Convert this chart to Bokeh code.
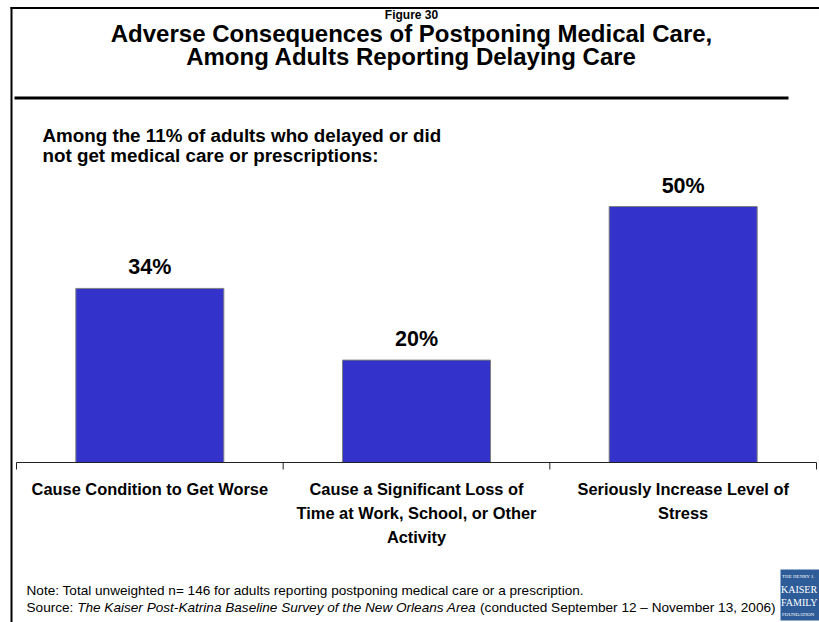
from bokeh.plotting import figure
from bokeh.models import Range1d, ColumnDataSource, Label, BoxAnnotation
from bokeh.core.properties import value
from bokeh.embed import file_html
from bokeh.resources import INLINE

# ---- data ----
categories = ["Cause Condition to Get Worse",
              "Cause a Significant Loss of\nTime at Work, School, or Other\nActivity",
              "Seriously Increase Level of\nStress"]
values = [34, 20, 50]
value_labels = ["34%", "20%", "50%"]

fig_label = "Figure 30"
title_lines = ["Adverse Consequences of Postponing Medical Care,",
               "Among Adults Reporting Delaying Care"]
subtitle_lines = ["Among the 11% of adults who delayed or did",
                  "not get medical care or prescriptions:"]
note_text = "Note: Total unweighted n= 146 for adults reporting postponing medical care or a prescription."
source_prefix = "Source:"
source_italic = "The Kaiser Post-Katrina Baseline Survey of the New Orleans Area"
source_suffix = "(conducted September 12 \u2013 November 13, 2006)"
logo_lines = ["THE HENRY J.", "KAISER", "FAMILY", "FOUNDATION"]

SANS = "Liberation Sans"
SERIF = "Liberation Serif"
BAR_COLOR = "#3333CC"

n = len(categories)
centers = [i + 0.5 for i in range(n)]
edges = list(range(n + 1))

# layout (pixels): the plot frame covers the whole canvas
W, H = 819, 622
AX_L, AX_R = 16, 816      # category axis extent
BASE = 462                # baseline of bars (from top)
PX_PER_UNIT = (AX_R - AX_L) / n
PX_PER_PCT = 5.12
x_start = -AX_L / PX_PER_UNIT
x_end = n + (W - AX_R) / PX_PER_UNIT
y_start = -(H - BASE) / PX_PER_PCT
y_end = BASE / PX_PER_PCT
tick_len = 7 / PX_PER_PCT

p = figure(width=W, height=H,
           x_range=Range1d(x_start, x_end), y_range=Range1d(y_start, y_end),
           output_backend="svg", toolbar_location=None,
           x_axis_location=None, y_axis_location=None,
           min_border=0, min_border_left=0, min_border_right=0,
           min_border_top=0, min_border_bottom=0)
p.outline_line_color = None
p.xgrid.visible = False
p.ygrid.visible = False
p.background_fill_color = "white"
p.border_fill_color = "white"

src = ColumnDataSource(dict(x=centers, val=values, lab=value_labels, cat=categories,
                            zero=[0] * n))
p.vbar(x="x", top="val", bottom=0, width=0.555, source=src,
       fill_color=BAR_COLOR, line_color="#7f7f7f", line_width=1)
p.text(x="x", y="val", text="lab", source=src, text_align="center",
       text_baseline="middle", y_offset=-21, text_font=value(SANS),
       text_font_style="bold", text_font_size="21.5px", text_color="black")

# category axis: line with ticks at the category boundaries, labels under the bars
p.segment(x0=[0], y0=[0], x1=[n], y1=[0], line_color="#222222", line_width=1)
p.segment(x0=edges, y0=[0] * len(edges), x1=edges, y1=[-tick_len] * len(edges),
          line_color="#222222", line_width=1)
p.text(x="x", y="zero", text="cat", source=src, text_align="center",
       text_baseline="top", y_offset=17, text_font=value(SANS),
       text_font_style="bold", text_font_size="16.4px", text_color="black",
       text_line_height=1.35)

# ---- helpers in screen units (frame = whole canvas, origin bottom-left)
def sx(xr):
    return xr

def sy(yr):
    return H - yr

def add_label(text, xr, yr, size, style="normal", font=SANS, align="left", color="black"):
    p.add_layout(Label(x=sx(xr), y=sy(yr), x_units="screen", y_units="screen", text=text,
                       text_font=font, text_font_size=size, text_font_style=style,
                       text_align=align, text_baseline="middle", text_color=color))

def add_box(x0, x1, y0, y1, color):
    p.add_layout(BoxAnnotation(left=sx(x0), right=sx(x1), top=sy(y0), bottom=sy(y1),
                               left_units="screen", right_units="screen",
                               top_units="screen", bottom_units="screen",
                               fill_color=color, fill_alpha=1, line_color=None))

# page frame lines and title rule
add_box(10, 819, 6.5, 8.5, "black")
add_box(10, 12, 6.5, 622, "black")
add_box(14, 788, 96, 99, "black")

add_label(fig_label, 411, 14, "12px", "bold", SANS, "center")
add_label(title_lines[0], 411, 33, "24px", "bold", SANS, "center")
add_label(title_lines[1], 411, 56, "24px", "bold", SANS, "center")
add_label(subtitle_lines[0], 42, 135, "18.8px", "bold")
add_label(subtitle_lines[1], 42, 155, "18.8px", "bold")

FS = 13.6
SPACE = 0.278
add_label(note_text, 26, 590, f"{FS}px")
add_label(source_prefix, 26, 607, f"{FS}px")
add_label(source_italic, 26 + (3.446 + SPACE) * FS, 607, f"{FS}px", "italic")
add_label(source_suffix, 26 + (3.446 + SPACE + 29.35 + SPACE) * FS, 607, f"{FS}px")

# logo
add_box(780, 819, 569, 620, "#2E5C99")
add_label(logo_lines[0], 781.5, 576, "5px", "normal", SERIF, "left", "white")
add_label(logo_lines[1], 780.5, 589, "10px", "normal", SERIF, "left", "white")
add_label(logo_lines[2], 780.5, 602, "10px", "normal", SERIF, "left", "white")
add_label(logo_lines[3], 781.5, 614, "5px", "normal", SERIF, "left", "white")

open("out.html", "w").write(file_html(p, INLINE))
